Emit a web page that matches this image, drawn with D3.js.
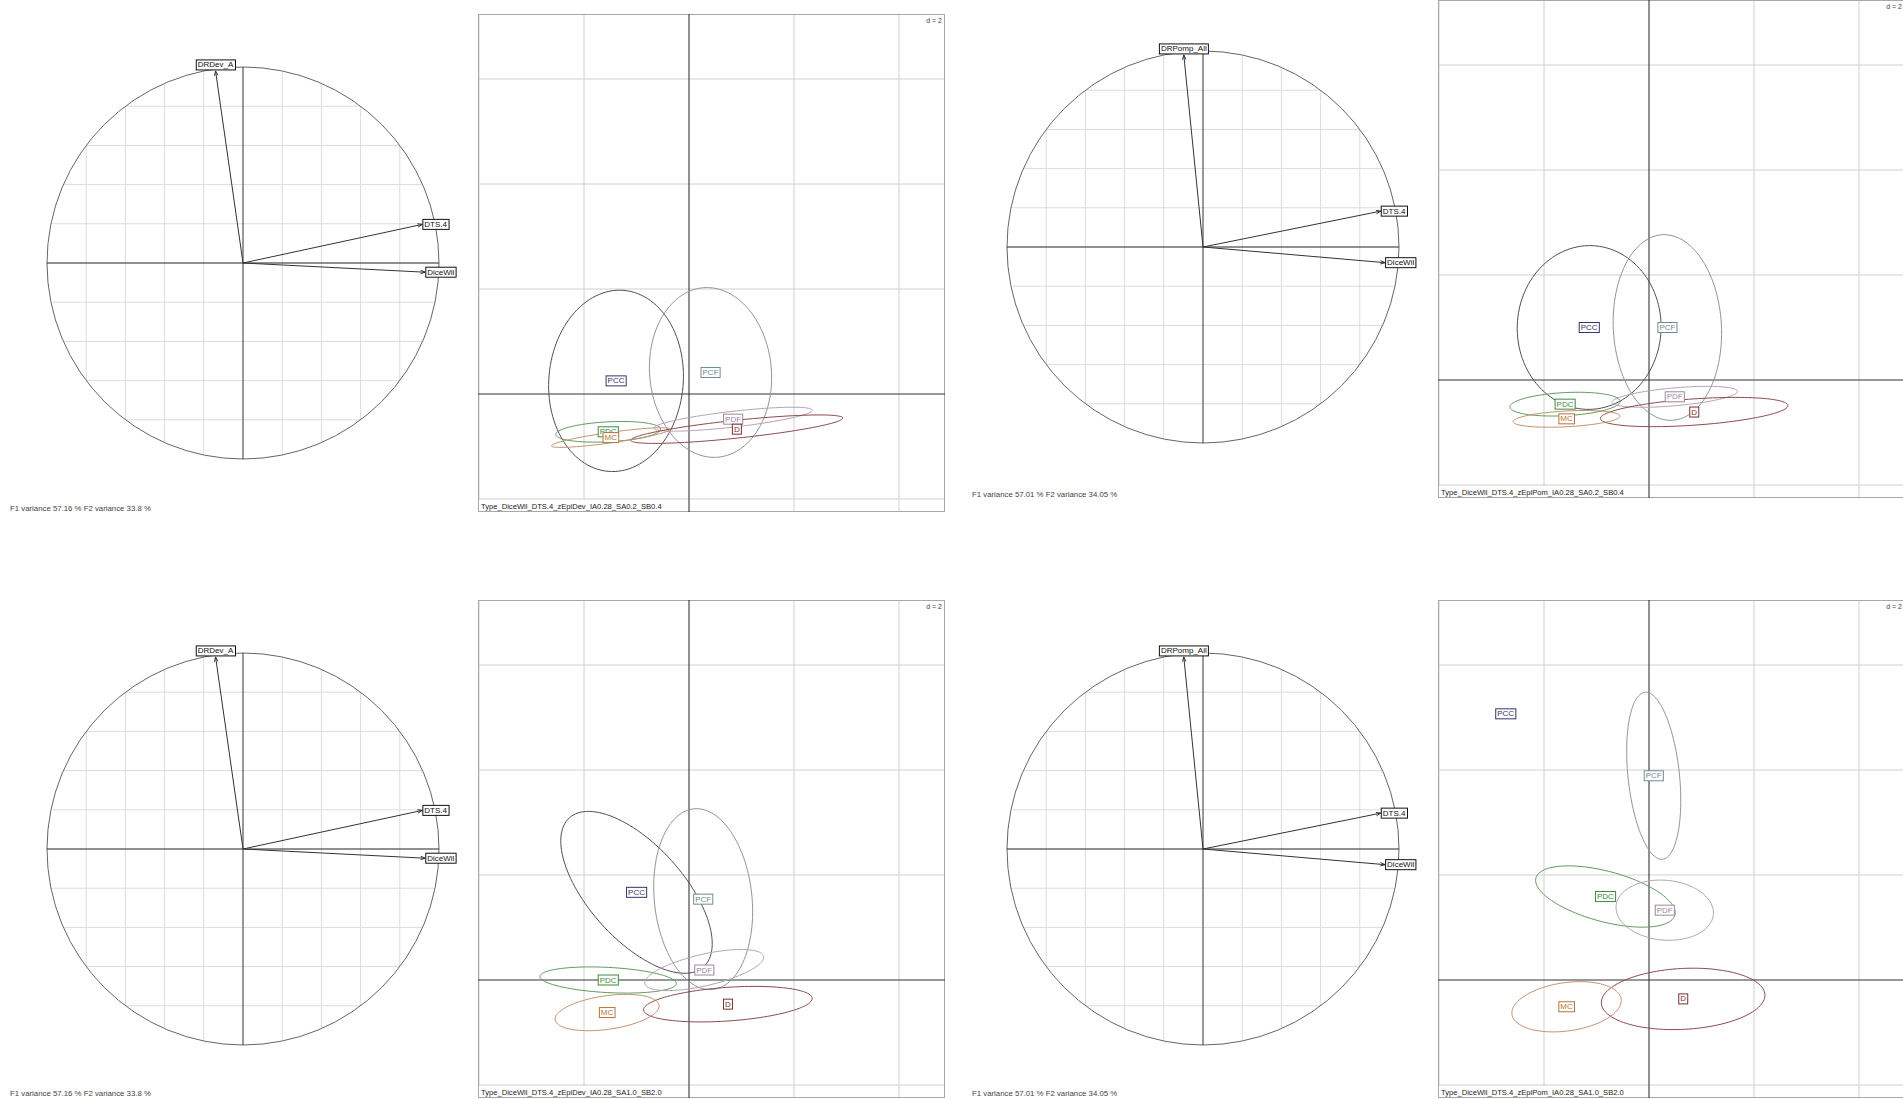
<!DOCTYPE html>
<meta charset="utf-8">
<style>
body { margin: 0; background: #fff; }
svg { display: block; font-family: "Liberation Sans", Arial, sans-serif; }
.cgrid { stroke: #dcdcdc; stroke-width: 1; }
.sgrid { stroke: #d0d0d0; stroke-width: 1; }
</style>
<script src="https://d3js.org/d3.v7.min.js"></script>
<div id="my_dataviz"></div>
<script>

// correlation circles (F1, F2 loadings)
var devVars = ["DRDev_A", "DTS.4", "DiceWil"];
var devF1 = [-0.14, 0.915, 0.93];
var devF2 = [0.98, 0.197, -0.047];
var devVariance = "F1  variance 57.16 %  F2  variance 33.8 %";

var pomVars = ["DRPomp_All", "DTS.4", "DiceWil"];
var pomF1 = [-0.098, 0.907, 0.929];
var pomF2 = [0.98, 0.183, -0.08];
var pomVariance = "F1  variance 57.01 %  F2  variance 34.05 %";

// classes
var groups = ["PCC", "PCF", "PDC", "PDF", "D", "MC"];
var groupColors = ["#34346a", "#6f8c8c", "#3f8a3f", "#9c879c", "#7a2e2e", "#b4743c"];
var ellipseColors = ["#4e4e60", "#8a9898", "#5e9a5e", "#b3a3b3", "#8c4a4a", "#c4906a"];

// ellipses : centre, half axes, angle of first axis (degrees)
var dev02Cx  = [-1.39, 0.41, -1.54, 0.84, 0.91, -1.49];
var dev02Cy  = [0.25, 0.41, -0.72, -0.48, -0.67, -0.83];
var dev02A   = [1.73, 1.62, 1.0, 1.52, 2.03, 1.14];
var dev02B   = [1.28, 1.16, 0.19, 0.15, 0.17, 0.1];
var dev02Ang = [85, 95, 3, 6.5, 6, 8];

var pom02Cx  = [-1.14, 0.35, -1.6, 0.49, 0.86, -1.57];
var pom02Cy  = [1.0, 1.0, -0.46, -0.32, -0.61, -0.74];
var pom02A   = [1.56, 1.77, 1.05, 1.2, 1.79, 1.02];
var pom02B   = [1.37, 1.03, 0.22, 0.17, 0.25, 0.15];
var pom02Ang = [88, 93, 3, 5, 4, 3];

var dev10Cx  = [-1.0, 0.27, -1.54, 0.29, 0.74, -1.56];
var dev10Cy  = [1.67, 1.54, 0.0, 0.19, -0.46, -0.62];
var dev10A   = [1.91, 1.73, 1.3, 1.16, 1.61, 1.0];
var dev10B   = [0.9, 0.93, 0.24, 0.3, 0.32, 0.32];
var dev10Ang = [-48, 96, -3, 13, 4, 8];

var pom10Cx  = [-2.73, 0.09, -0.83, 0.30, 0.65, -1.57];
var pom10Cy  = [5.07, 3.89, 1.59, 1.33, -0.36, -0.51];
var pom10A   = [0, 1.6, 1.37, 0.93, 1.56, 1.05];
var pom10B   = [0, 0.49, 0.48, 0.57, 0.58, 0.46];
var pom10Ang = [0, 96, -15, -5, 3, 8];

var titles = ["Type_DiceWil_DTS.4_zEpiDev_IA0.28_SA0.2_SB0.4",
              "Type_DiceWil_DTS.4_zEpiPom_IA0.28_SA0.2_SB0.4",
              "Type_DiceWil_DTS.4_zEpiDev_IA0.28_SA1.0_SB2.0",
              "Type_DiceWil_DTS.4_zEpiPom_IA0.28_SA1.0_SB2.0"];
var gridStep = 2;

var svg = d3.select("#my_dataviz")
    .append("svg")
    .attr("width", 1903)
    .attr("height", 1099);

svg.append("rect").attr("width", 1903).attr("height", 1099).attr("fill", "#fff");

// label with a box behind it
function boxLabel(g, txt, px, py, anchor, color, size) {
    var t = g.append("text")
        .attr("x", px).attr("y", py)
        .attr("text-anchor", anchor)
        .attr("dominant-baseline", "central")
        .attr("font-size", size)
        .attr("fill", color)
        .text(txt);
    var bb = t.node().getBBox();
    g.insert("rect", function() { return t.node(); })
        .attr("x", bb.x - 1.5).attr("y", bb.y - 0.5)
        .attr("width", bb.width + 3).attr("height", bb.height + 1)
        .attr("fill", "#fff")
        .attr("stroke", color)
        .attr("stroke-width", 1);
}

function corCircle(cx, cy, r, names, f1, f2, variance, tx, ty) {
    var x = d3.scaleLinear().domain([-1, 1]).range([cx - r, cx + r]);
    var y = d3.scaleLinear().domain([-1, 1]).range([cy + r, cy - r]);
    var g = svg.append("g");

    d3.range(-4, 5).filter(function(v) { return v != 0; }).forEach(function(k) {
        var v = k / 5, h = Math.sqrt(1 - v * v);
        g.append("line").attr("class", "cgrid")
            .attr("x1", x(-h)).attr("x2", x(h)).attr("y1", y(v)).attr("y2", y(v));
        g.append("line").attr("class", "cgrid")
            .attr("x1", x(v)).attr("x2", x(v)).attr("y1", y(-h)).attr("y2", y(h));
    });

    g.append("circle")
        .attr("cx", x(0)).attr("cy", y(0)).attr("r", x(1) - x(0))
        .attr("fill", "none").attr("stroke", "#666").attr("stroke-width", 1);

    g.append("line").attr("x1", x(-1)).attr("x2", x(1)).attr("y1", y(0)).attr("y2", y(0))
        .attr("stroke", "#222");
    g.append("line").attr("x1", x(0)).attr("x2", x(0)).attr("y1", y(-1)).attr("y2", y(1))
        .attr("stroke", "#333");

    names.forEach(function(n, i) {
        var x0 = x(0), y0 = y(0), x1 = x(f1[i]), y1 = y(f2[i]);
        var ang = Math.atan2(y1 - y0, x1 - x0), L = 5, sp = 0.35;
        g.append("line").attr("x1", x0).attr("y1", y0).attr("x2", x1).attr("y2", y1)
            .attr("stroke", "#333");
        g.append("path")
            .attr("d", "M" + (x1 - L * Math.cos(ang - sp)) + "," + (y1 - L * Math.sin(ang - sp)) +
                       "L" + x1 + "," + y1 +
                       "L" + (x1 - L * Math.cos(ang + sp)) + "," + (y1 - L * Math.sin(ang + sp)))
            .attr("fill", "none").attr("stroke", "#333");
        if (Math.abs(f1[i]) >= Math.abs(f2[i])) {
            boxLabel(g, n, f1[i] > 0 ? x1 + 2 : x1 - 2, y1,
                     f1[i] > 0 ? "start" : "end", "#111", 8);
        } else {
            boxLabel(g, n, x1, f2[i] > 0 ? y1 - 6 : y1 + 6, "middle", "#111", 8);
        }
    });

    g.append("text").attr("x", tx).attr("y", ty)
        .attr("font-size", 7.8).attr("fill", "#444")
        .text(variance);
}

var frameW = 467, frameH = 498;
var xDomain = [-211 / 52.5, (frameW - 211) / 52.5];
var yDomain = [-118 / 52.5, (frameH - 118) / 52.5];

function scatterPanel(left, top, cxs, cys, as, bs, angs, title) {
    var x = d3.scaleLinear().domain(xDomain).range([left, left + frameW]);
    var y = d3.scaleLinear().domain(yDomain).range([top + frameH, top]);
    var g = svg.append("g");

    var xt = d3.range(Math.ceil(xDomain[0] / gridStep) * gridStep, xDomain[1], gridStep);
    var yt = d3.range(Math.ceil(yDomain[0] / gridStep) * gridStep, yDomain[1], gridStep);

    g.selectAll(".vx").data(xt.filter(function(v) { return v != 0; })).enter()
        .append("line").attr("class", "sgrid")
        .attr("x1", function(d) { return x(d); }).attr("x2", function(d) { return x(d); })
        .attr("y1", top).attr("y2", top + frameH);
    g.selectAll(".hy").data(yt.filter(function(v) { return v != 0; })).enter()
        .append("line").attr("class", "sgrid")
        .attr("y1", function(d) { return y(d); }).attr("y2", function(d) { return y(d); })
        .attr("x1", left).attr("x2", left + frameW);

    g.append("rect")
        .attr("x", left + 0.5).attr("y", top + 0.5)
        .attr("width", frameW - 1).attr("height", frameH - 1)
        .attr("fill", "none").attr("stroke", "#a8a8a8");

    g.append("line").attr("x1", x(0)).attr("x2", x(0)).attr("y1", top).attr("y2", top + frameH)
        .attr("stroke", "#222");
    g.append("line").attr("y1", y(0)).attr("y2", y(0)).attr("x1", left).attr("x2", left + frameW)
        .attr("stroke", "#333");

    var line = d3.line()
        .x(function(p) { return x(p[0]); })
        .y(function(p) { return y(p[1]); })
        .curve(d3.curveLinearClosed);

    groups.forEach(function(grp, i) {
        if (!as[i]) return;
        var th = angs[i] * Math.PI / 180, pts = [];
        for (var k = 0; k < 120; k++) {
            var t = k / 120 * 2 * Math.PI;
            pts.push([cxs[i] + as[i] * Math.cos(th) * Math.cos(t) - bs[i] * Math.sin(th) * Math.sin(t),
                      cys[i] + as[i] * Math.sin(th) * Math.cos(t) + bs[i] * Math.cos(th) * Math.sin(t)]);
        }
        g.append("path").attr("d", line(pts))
            .attr("fill", "none").attr("stroke", ellipseColors[i])
            .attr("stroke-width", 1);
    });

    groups.forEach(function(grp, i) {
        boxLabel(g, grp, x(cxs[i]), y(cys[i]), "middle", groupColors[i], 8);
    });

    g.append("text").attr("x", left + frameW - 3).attr("y", top + 9)
        .attr("text-anchor", "end").attr("font-size", 7).attr("fill", "#444")
        .text("d = " + gridStep);

    var tt = g.append("text").attr("x", left + 3).attr("y", top + frameH - 3)
        .attr("font-size", 7.6).attr("fill", "#222").text(title);
    var bb = tt.node().getBBox();
    g.insert("rect", function() { return tt.node(); })
        .attr("x", left + 1).attr("y", top + frameH - 12)
        .attr("width", bb.width + 5).attr("height", 11)
        .attr("fill", "#fff");
}

corCircle(243, 263, 196, devVars, devF1, devF2, devVariance, 10, 511);
scatterPanel(478, 14, dev02Cx, dev02Cy, dev02A, dev02B, dev02Ang, titles[0]);
corCircle(1203, 247, 196, pomVars, pomF1, pomF2, pomVariance, 972, 497);
scatterPanel(1438, 0, pom02Cx, pom02Cy, pom02A, pom02B, pom02Ang, titles[1]);

corCircle(243, 849, 196, devVars, devF1, devF2, devVariance, 10, 1096);
scatterPanel(478, 600, dev10Cx, dev10Cy, dev10A, dev10B, dev10Ang, titles[2]);
corCircle(1203, 849, 196, pomVars, pomF1, pomF2, pomVariance, 972, 1096);
scatterPanel(1438, 600, pom10Cx, pom10Cy, pom10A, pom10B, pom10Ang, titles[3]);

</script>
